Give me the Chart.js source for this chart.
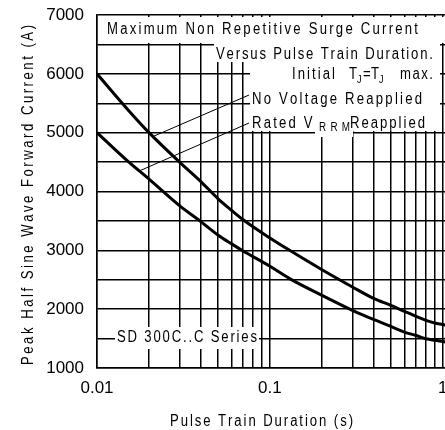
<!DOCTYPE html>
<html>
<head>
<meta charset="utf-8">
<script src="https://cdn.jsdelivr.net/npm/chart.js@4.4.0/dist/chart.umd.min.js"></script>
<style>
  html, body { margin: 0; padding: 0; background: #fff; overflow: hidden; }
  #wrap { width: 445px; height: 430px; overflow: hidden; }
  #surge { display: block; }
</style>
</head>
<body>
<div id="wrap"><canvas id="surge" width="480" height="430"></canvas></div>
<script>
// pulse train duration (s) and surge current (A)
var pulseTimes = [0.01, 0.015, 0.02, 0.03, 0.04, 0.05, 0.06, 0.07, 0.1, 0.13, 0.2, 0.3, 0.4, 0.5, 0.6, 0.7, 0.8, 0.9, 1.0, 1.1];
var noVoltage  = [6000, 5400, 5000, 4500, 4165, 3880, 3680, 3520, 3210, 3000, 2670, 2377, 2180, 2065, 1963, 1877, 1809, 1764, 1740, 1715];
var ratedVrrm  = [5000, 4520, 4210, 3760, 3484, 3260, 3110, 2990, 2730, 2520, 2235, 1980, 1821, 1707, 1610, 1553, 1497, 1470, 1450, 1430];

var xGrid = [0.01, 0.02, 0.03, 0.04, 0.05, 0.06, 0.07, 0.08, 0.09, 0.1, 0.2, 0.3, 0.4, 0.5, 0.6, 0.7, 0.8, 0.9, 1];
var xLabelValues = [0.01, 0.1, 1];
var xLabelText = ['0.01', '0.1', '1'];
var yLabelValues = [1000, 2000, 3000, 4000, 5000, 6000, 7000];

var FONT = '"Liberation Sans", Arial, sans-serif';

function toPoints(xs, ys) {
  return xs.map(function (x, i) { return { x: x, y: ys[i] }; });
}

// narrow, spaced-out lettering like the datasheet print (char by char)
function spaced(ctx, str, x, y, size, width, rotate) {
  var sx = 0.82;
  ctx.save();
  ctx.font = size + 'px ' + FONT;
  var chars = str.split('');
  var adv = chars.map(function (c) { return ctx.measureText(c).width * sx; });
  var total = adv.reduce(function (a, b) { return a + b; }, 0);
  var gap = width && chars.length > 1 ? (width - total) / (chars.length - 1) : 2.2;
  ctx.translate(x, y);
  if (rotate) ctx.rotate(-Math.PI / 2);
  ctx.fillStyle = '#000';
  ctx.textAlign = 'left';
  ctx.textBaseline = 'alphabetic';
  var px = 0;
  chars.forEach(function (c, i) {
    ctx.save();
    ctx.translate(px, 0);
    ctx.scale(sx, 1);
    ctx.fillText(c, 0, 0);
    ctx.restore();
    px += adv[i] + gap;
  });
  ctx.restore();
}

var notes = {
  id: 'notes',
  afterDraw: function (chart) {
    var ctx = chart.ctx;
    var xs = chart.scales.x, ys = chart.scales.y;

    // white label boxes that break the grid
    ctx.save();
    ctx.fillStyle = '#fff';
    [[98, 17, 348, 26], [214, 43, 226, 19], [250, 62, 190, 20], [250, 82, 190, 49],
     [315, 131, 38, 6], [115, 327, 144, 22]].forEach(function (r) {
      ctx.fillRect(r[0], r[1], r[2], r[3]);
    });
    ctx.restore();

    spaced(ctx, 'Maximum Non Repetitive Surge Current', 107, 33.5, 16, 311);
    spaced(ctx, 'Versus Pulse Train Duration.', 216, 58.5, 16, 217);
    spaced(ctx, 'Initial', 292, 79, 16, 43);
    spaced(ctx, 'T', 349, 79, 16);
    spaced(ctx, 'J', 357, 83, 11);
    spaced(ctx, '=', 363, 79, 16);
    spaced(ctx, 'T', 371, 79, 16);
    spaced(ctx, 'J', 379, 83, 11);
    spaced(ctx, 'max.', 400, 79, 16, 33);
    spaced(ctx, 'No Voltage Reapplied', 252, 103.5, 16, 170);
    spaced(ctx, 'Rated V', 252, 127.5, 16);
    spaced(ctx, 'RRM', 319, 131, 12, 31);
    spaced(ctx, 'Reapplied', 350, 127.5, 16, 75);
    spaced(ctx, 'SD 300C..C Series', 117, 342, 16, 140);

    // axis titles
    spaced(ctx, 'Pulse Train Duration (s)', 170, 426, 16, 183);
    spaced(ctx, 'Peak Half Sine Wave Forward Current (A)', 33, 365, 16, 340, true);

    // leader lines from the labels to the curves
    ctx.save();
    ctx.strokeStyle = '#000';
    ctx.lineWidth = 1;
    ctx.beginPath();
    ctx.moveTo(249, 95);
    ctx.lineTo(xs.getPixelForValue(0.0211), ys.getPixelForValue(4935));
    ctx.moveTo(249, 123);
    ctx.lineTo(xs.getPixelForValue(0.0175), ys.getPixelForValue(4347));
    ctx.stroke();
    ctx.restore();
  }
};

new Chart(document.getElementById('surge'), {
  type: 'line',
  data: {
    datasets: [{
      label: 'No Voltage Reapplied',
      data: toPoints(pulseTimes, noVoltage),
      borderColor: '#000',
      borderWidth: 3,
      pointRadius: 0,
      fill: false,
      cubicInterpolationMode: 'monotone'
    }, {
      label: 'Rated VRRM Reapplied',
      data: toPoints(pulseTimes, ratedVrrm),
      borderColor: '#000',
      borderWidth: 3,
      pointRadius: 0,
      fill: false,
      cubicInterpolationMode: 'monotone'
    }]
  },
  options: {
    responsive: false,
    animation: false,
    layout: { padding: { top: 15, right: 30, left: 0, bottom: 0 } },
    plugins: { legend: { display: false }, tooltip: { enabled: false } },
    scales: {
      x: {
        type: 'logarithmic',
        min: 0.01,
        max: 1.1,
        afterBuildTicks: function (s) {
          s.ticks = xGrid.map(function (v) { return { value: v }; });
        },
        afterFit: function (s) {
          s.height = 62;
          s.paddingLeft = 0;
          s.paddingRight = 0;
        },
        grid: { color: '#000', lineWidth: 1.5, drawTicks: false },
        border: { color: '#000', width: 1.5 },
        ticks: {
          autoSkip: false,
          maxRotation: 0,
          padding: 10,
          color: '#000',
          font: { family: FONT, size: 17 },
          callback: function (v) {
            for (var i = 0; i < xLabelValues.length; i++) {
              if (Math.abs(v - xLabelValues[i]) < 1e-9) return xLabelText[i];
            }
            return '';
          }
        }
      },
      y: {
        min: 1000,
        max: 7000,
        afterFit: function (s) {
          s.width = 97;
          s.paddingTop = 0;
          s.paddingBottom = 0;
        },
        grid: { color: '#000', lineWidth: 1.5, drawTicks: false },
        border: { color: '#000', width: 1.5 },
        ticks: {
          stepSize: 500,
          padding: 13,
          color: '#000',
          font: { family: FONT, size: 17 },
          callback: function (v) {
            return yLabelValues.indexOf(v) >= 0 ? String(v) : '';
          }
        }
      }
    }
  },
  plugins: [notes]
});
</script>
</body>
</html>
